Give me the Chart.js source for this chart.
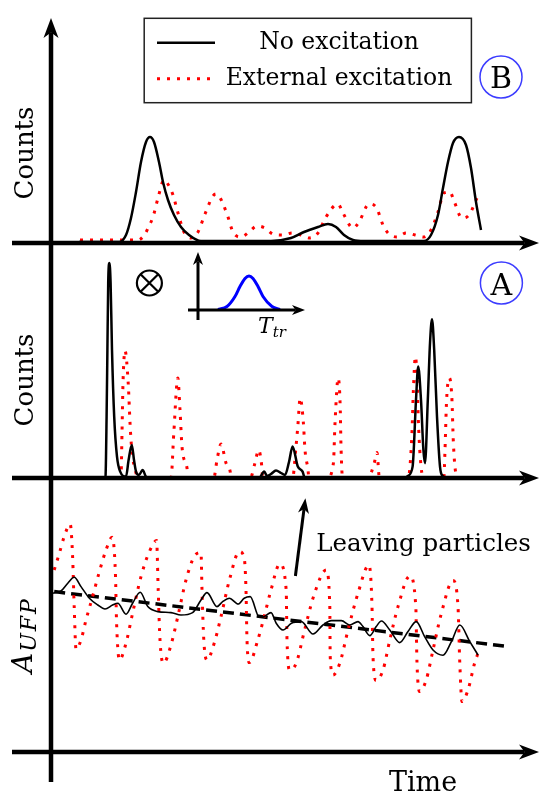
<!DOCTYPE html>
<html>
<head>
<meta charset="utf-8">
<script src="https://cdn.jsdelivr.net/npm/chart.js@4.4.0/dist/chart.umd.min.js"></script>
<style>
  html, body { margin: 0; padding: 0; background: #fff; }
  #wrap { position: relative; width: 544px; height: 804px; }
  #wrap canvas { position: absolute; left: 0; top: 0; }
</style>
</head>
<body>
<div id="wrap">
  <canvas id="panelB" width="544" height="804"></canvas>
  <canvas id="panelA" width="544" height="804"></canvas>
  <canvas id="inset" width="544" height="804"></canvas>
  <canvas id="panelC" width="544" height="804"></canvas>
</div>
<script>
// Panel B - counts, smooth histograms
const bNoExcT = [7, 17, 18.75, 20, 21.25, 22.5, 23.75, 24.75, 25.75, 27,
                 28, 29.25, 30.75, 32.5, 34.5, 37.5, 55, 60, 63.25, 66.75,
                 69.25, 71.25, 73.25, 75.5, 78.25, 93.25, 95, 96.75, 98, 99.25,
                 100.5, 102, 103.75, 105, 106.25, 107.5];
const bNoExc  = [0.5, 0.5, 4, 12.5, 25.5, 40.5, 50.5, 53, 50.5, 40.5,
                 30.5, 21.5, 14, 8, 4, 1, 1, 2.5, 5.5, 8,
                 9.5, 8, 4, 1.5, 1, 1, 4, 14, 27.5, 40.5,
                 50, 53, 49, 37.5, 20.5, 6.5];
const bExtT = [7.25, 21.75, 23.5, 24.5, 25.5, 26.75, 28.25, 29.5, 30.5, 31.75,
               33.25, 35, 36.75, 38.5, 40.5, 41.25, 42, 44, 45.5, 47.5,
               49.5, 51.5, 53.5, 55.5, 58, 60.25, 62.5, 64.5, 66.75, 68.75,
               71.75, 73, 75.5, 77, 79.5, 81.25, 83, 84.25, 86.5, 88.75,
               91, 93.25, 95, 96.75, 98.25, 99.75, 100.75, 102.75, 104.5, 106.5];
const bExt  = [1.5, 1.5, 4.5, 8.5, 13, 22.5, 31.5, 28.5, 24, 15,
               5.5, 2.5, 5.5, 14.5, 23.5, 24.5, 23.5, 14.5, 5.5, 3,
               5.5, 8.5, 7.5, 4.5, 4, 5, 4, 2.5, 5, 13,
               19.5, 15, 7.5, 10.5, 19.5, 18, 9, 5, 3, 5,
               4, 3, 6.5, 15.5, 25, 25.5, 21, 12.5, 14, 22.5];

// Panel A - counts, sharp peaks
const aNoExcT = [12.5, 13.6, 13.9, 14.1, 14.3, 14.6, 14.9, 15.25, 15.8, 16.5,
                 17.3, 18.75, 19.4, 20.2, 20.75, 21.25, 22, 22.9, 23.75, 25,
                 52, 53.3, 54, 55, 56.25, 57.5, 58.5, 59.5, 60.4, 61.7,
                 62.9, 63.3, 64, 88.5, 89.2, 90.4, 91.25, 91.8, 92.5, 93.1,
                 93.5, 94.2, 94.75, 95.25, 95.8, 96.5, 97.25, 97.9, 98.75];
const aNoExc  = [0, 0, 30.7, 64, 97.5, 107.5, 97.5, 64, 30.7, 10.7,
                 3.2, 0.7, 9, 16.5, 9, 3.2, 1.5, 4, 0.7, 0,
                 0, 3.2, 1, 2, 3.7, 2.5, 1.5, 8, 15.7, 5.7,
                 3.2, 0.7, 0, 0, 1, 5.7, 39, 55.7, 39, 14,
                 7.4, 39, 67.4, 79.4, 64, 30.7, 5.7, 1, 0];
const aExtT = [17, 17.5, 17.75, 18, 18.5, 19.3, 19.8, 20.2, 21.25, 21.7,
               30, 30.7, 31.7, 32.25, 32.75, 34, 34.3,
               40.7, 41.5, 42.5, 43.75, 44.8, 45,
               49.8, 51, 51.9, 52.7, 52.9,
               60.4, 61.25, 61.7, 62.3, 63.1, 63.5, 64.2, 64.5,
               69, 70.6, 71, 71.8, 72.3, 72.5, 72.9,
               79.3, 80.8, 81.5, 82.1,
               89.3, 90.2, 90.6, 91.1, 91.5, 91.8, 92.3, 93.1,
               98.2, 98.5, 98.9, 99.6, 100.2, 100.6, 101.25, 102];
const aExt  = [0, 0.7, 22.5, 47.5, 63.7, 47.5, 25.7, 14, 2.5, 0,
               0, 22.5, 50, 34, 15.7, 5, 0,
               0, 9, 17, 7.5, 3.2, 0,
               0, 7.5, 14, 5.7, 0,
               0, 15.7, 25.7, 40, 27.4, 14, 4.9, 0,
               0, 7.4, 27.4, 50, 35.7, 15.7, 0,
               0, 7.4, 12.7, 0,
               0, 20.7, 44, 60.7, 50.7, 30.7, 10.7, 0,
               0, 14, 39, 50, 40.7, 17.4, 2, 0];

// Inset - transit time distribution
const insetT = [2.0, 2.9, 3.7, 4.2, 4.7, 5.1, 5.5, 6.0, 6.5, 7.4, 8.2];
const insetV = [0.01, 0.07, 0.27, 0.47, 0.63, 0.68, 0.63, 0.47, 0.27, 0.07, 0.01];

// Bottom panel - A_UFP over time
const cNoExcT = [0.4, 2.5, 4.2, 5.8, 7.5, 9.6, 11.7, 13.5, 15.4, 16.7,
                 18.75, 20.4, 22.3, 24.2, 26.7, 30, 32.5, 35.4, 37.5, 39,
                 41.5, 42.9, 44.6, 46.8, 48.3, 49.8, 52.1, 53.3, 55, 56.3,
                 58, 60.1, 62.6, 65.5, 68, 70.1, 72.6, 74.7, 76.75, 78,
                 79.7, 81.3, 82.6, 84.7, 87.2, 89.25, 91.3, 93.4, 95.5, 98,
                 100.1, 102.2, 104.7, 106.75];
const cNoExc  = [79.4, 80.5, 84.4, 87.4, 82.7, 76.9, 73.5, 71.5, 73.5, 74.4,
                 68.9, 74.4, 79.9, 72.7, 70.2, 69.7, 68.5, 69.7, 76, 79.7,
                 72.7, 75.2, 76.9, 74, 76.9, 77.7, 67.4, 67.7, 69.7, 64.4,
                 61, 64.4, 65.2, 59, 63.5, 65.7, 65.7, 63.5, 65.2, 62.7,
                 58.2, 62.7, 65.5, 61, 54.7, 60.2, 65.2, 57.7, 51, 48.4,
                 55.2, 63.5, 55.2, 48.5];
const cExtT = [0.8, 2.1, 3.3, 4.8, 5.4, 5.8, 6.25, 7.5, 8.75, 10.4,
               12.1, 13.75, 15.25, 16.1, 16.4, 17.1, 18.75, 20.4, 22.5, 24.6,
               26.4, 26.8, 27.25, 28.1, 30, 31.7, 33.75, 35.8, 37.5, 37.75,
               38.2, 39, 40.8, 42.5, 44.6, 47.1, 48.3, 48.75, 49, 49.6,
               51.7, 53.3, 55, 57.2, 58.8, 59, 59.7, 61.3, 63.4, 65.9,
               68.8, 69.7, 69.8, 70.5, 72.2, 74.25, 76.75, 79.5, 80.25, 80.5,
               81.3, 83, 84.7, 86.75, 89.7, 91.2, 91.5, 92.2, 93.8, 95.5,
               97.6, 100.5, 101.75, 102.2, 102.75, 104.25, 105.9, 106.75];
const cExt  = [91, 99.4, 107.7, 113.9, 97.7, 72.7, 51.4, 56, 66, 77.7,
               90.2, 101, 107.4, 89.4, 64.4, 46, 54.4, 69.4, 87.7, 100.2,
               105.7, 81, 56, 44.4, 53.5, 67.7, 86, 97.7, 99.7, 81,
               56, 46, 54.4, 67.7, 86, 100.2, 97, 81, 56, 44.7,
               56, 67.7, 81, 94, 81, 56, 41, 44.4, 61, 79.4,
               91, 72.7, 47.7, 38.5, 44.4, 61, 79.4, 93.5, 72.7, 47.7,
               35.7, 41, 56, 72.7, 88, 72.7, 44.4, 30.2, 36, 51,
               69.4, 85.7, 72.7, 44.4, 25.2, 31, 44.4, 49.4];
const cTrendT = [0.8, 114.5];
const cTrend  = [80.2, 52.7];

const FONT = '"DejaVu Serif", serif';
const RED = 'rgb(255, 0, 0)';
const pts = (t, v) => t.map((x, i) => ({ x, y: v[i] }));

const noExcStyle = { label: 'No excitation', borderColor: '#000', borderWidth: 2.5 };
const extStyle = { label: 'External excitation', borderColor: RED, borderWidth: 3, borderDash: [3, 7] };

// arrow line with a filled head at (x2, y2)
function headArrow(ctx, x1, y1, x2, y2, len, half) {
    const d = Math.hypot(x2 - x1, y2 - y1), ux = (x2 - x1) / d, uy = (y2 - y1) / d;
    const bx = x2 - ux * len, by = y2 - uy * len;
    const nx = x2 - ux * len * 0.72, ny = y2 - uy * len * 0.72;
    ctx.beginPath(); ctx.moveTo(x1, y1); ctx.lineTo(nx, ny); ctx.stroke();
    ctx.beginPath();
    ctx.moveTo(x2, y2);
    ctx.lineTo(bx - uy * half, by + ux * half);
    ctx.lineTo(nx, ny);
    ctx.lineTo(bx + uy * half, by - ux * half);
    ctx.closePath(); ctx.fill();
}

function drawAxes(chart, c) {
    const ctx = chart.ctx, a = chart.chartArea;
    const x0 = chart.scales.x.getPixelForValue(0), y0 = chart.scales.y.getPixelForValue(0);
    ctx.save();
    ctx.strokeStyle = ctx.fillStyle = '#000';
    ctx.lineWidth = c.lw;
    headArrow(ctx, x0 - c.left, y0, a.right + c.right, y0, c.head, c.half);
    if (c.vArrow) {
        headArrow(ctx, x0, y0 + c.vBottom, x0, a.top - c.vTop, c.head, c.half);
    } else {
        ctx.beginPath(); ctx.moveTo(x0, a.top - c.vTop); ctx.lineTo(x0, y0 + c.vBottom); ctx.stroke();
    }
    ctx.restore();
}

const P = (chart, x, y) => [chart.scales.x.getPixelForValue(x), chart.scales.y.getPixelForValue(y)];

function circleLabel(chart, x, y, base, text) {
    const ctx = chart.ctx, [cx, cy] = P(chart, x, y), [, by] = P(chart, x, base);
    ctx.save();
    ctx.strokeStyle = 'rgb(60, 60, 255)'; ctx.lineWidth = 1.5;
    ctx.beginPath(); ctx.arc(cx, cy, 21, 0, Math.PI * 2); ctx.stroke();
    ctx.fillStyle = '#000'; ctx.font = '30px ' + FONT; ctx.textAlign = 'center';
    ctx.fillText(text, cx, by);
    ctx.restore();
}

function vLabel(chart, x, y, text, size) {
    const ctx = chart.ctx, [px, py] = P(chart, x, y);
    ctx.save();
    ctx.translate(px, py); ctx.rotate(-Math.PI / 2);
    ctx.fillStyle = '#000'; ctx.font = size + 'px ' + FONT; ctx.textAlign = 'center';
    ctx.fillText(text, 0, 0);
    ctx.restore();
}

function drawLegend(chart) {
    const ctx = chart.ctx;
    const [l, t] = P(chart, 23.3, 112.35), [r, b] = P(chart, 105.1, 70.15);
    ctx.save();
    ctx.strokeStyle = '#222'; ctx.lineWidth = 1.5;
    ctx.strokeRect(l, t, r - l, b - t);
    const rows = [[100.15, 96.85], [82.15, 79]];
    chart.data.datasets.forEach((ds, i) => {
        const [x1, y1] = P(chart, 26.5, rows[i][0]), [x2] = P(chart, 41, rows[i][0]);
        ctx.strokeStyle = ds.borderColor; ctx.lineWidth = ds.borderWidth;
        ctx.setLineDash(ds.borderDash || []);
        ctx.beginPath(); ctx.moveTo(x1, y1); ctx.lineTo(x2, y1); ctx.stroke();
        const [tx, ty] = P(chart, 72, rows[i][1]);
        ctx.fillStyle = '#000'; ctx.font = '23.5px ' + FONT; ctx.textAlign = 'center';
        ctx.fillText(ds.label, tx, ty);
    });
    ctx.restore();
}

const panelAxes = { lw: 4.5, left: 39, right: 8, head: 20, half: 7.5 };

function makeChart(id, datasets, xMax, yMax, padding, axes, extra) {
    return new Chart(document.getElementById(id), {
        type: 'line',
        data: { datasets },
        options: {
            responsive: false,
            animation: false,
            events: [],
            layout: { padding },
            plugins: { legend: { display: false }, tooltip: { enabled: false } },
            scales: {
                x: { type: 'linear', min: 0, max: xMax, display: false },
                y: { type: 'linear', min: 0, max: yMax, display: false }
            },
            elements: {
                point: { radius: 0 },
                line: { cubicInterpolationMode: 'monotone', borderCapStyle: 'butt', fill: false }
            }
        },
        plugins: [{
            id: 'sketch_' + id,
            afterDatasetsDraw(chart) {
                drawAxes(chart, axes);
                if (extra) extra(chart);
            }
        }]
    });
}

// Panel B
makeChart('panelB', [
    { ...noExcStyle, data: pts(bNoExcT, bNoExc) },
    { ...extStyle, data: pts(bExtT, bExt) }
], 120, 100, { left: 51, right: 13, top: 43, bottom: 561 },
{ ...panelAxes, vTop: 25, vBottom: 0, vArrow: true },
chart => {
    drawLegend(chart);
    circleLabel(chart, 112.5, 83, 77.35, 'B');
    vLabel(chart, -4.5, 45, 'Counts', 26);
});

// Panel A
makeChart('panelA', [
    { ...noExcStyle, data: pts(aNoExcT, aNoExc) },
    { ...extStyle, data: pts(aExtT, aExt) }
], 120, 110, { left: 51, right: 13, top: 258, bottom: 326 },
{ ...panelAxes, vTop: 15, vBottom: 0, vArrow: false },
chart => {
    circleLabel(chart, 112.6, 97.5, 91.5, 'A');
    vLabel(chart, -4.5, 49, 'Counts', 26);
    const ctx = chart.ctx, [ox, oy] = P(chart, 24.6, 97.5), r = 12.5, k = r * 0.707;
    ctx.save();
    ctx.strokeStyle = '#000'; ctx.lineWidth = 2.2;
    ctx.beginPath(); ctx.arc(ox, oy, r, 0, Math.PI * 2); ctx.stroke();
    ctx.beginPath();
    ctx.moveTo(ox - k, oy - k); ctx.lineTo(ox + k, oy + k);
    ctx.moveTo(ox + k, oy - k); ctx.lineTo(ox - k, oy + k);
    ctx.stroke();
    ctx.restore();
});

// Inset
makeChart('inset', [
    { label: 'T_tr', borderColor: 'rgb(0, 0, 255)', borderWidth: 3, data: pts(insetT, insetV) }
], 10, 1, { left: 198, right: 246, top: 260, bottom: 494 },
{ lw: 3, left: 10, right: 7, head: 13, half: 5, vTop: 8, vBottom: 10, vArrow: true },
chart => {
    const ctx = chart.ctx, [tx, ty] = P(chart, 6.0, -0.46);
    ctx.save();
    ctx.fillStyle = '#000';
    ctx.font = 'italic 22px ' + FONT;
    ctx.fillText('T', tx, ty);
    const w = ctx.measureText('T').width;
    ctx.font = 'italic 15px ' + FONT;
    ctx.fillText('tr', tx + w, ty + 4);
    ctx.restore();
});

// Bottom panel
makeChart('panelC', [
    { label: 'No excitation', borderColor: '#000', borderWidth: 1.6, data: pts(cNoExcT, cNoExc) },
    { ...extStyle, data: pts(cExtT, cExt) },
    { label: 'Trend', borderColor: '#000', borderWidth: 3.5, borderDash: [11, 6], data: pts(cTrendT, cTrend) }
], 120, 125, { left: 51, right: 13, top: 502, bottom: 52 },
{ ...panelAxes, vTop: 24, vBottom: 30, vArrow: false },
chart => {
    const ctx = chart.ctx;
    ctx.save();
    ctx.strokeStyle = ctx.fillStyle = '#000'; ctx.lineWidth = 3;
    const [ax, ay] = P(chart, 61.1, 88), [bx, by] = P(chart, 63.6, 126.85);
    headArrow(ctx, ax, ay, bx, by, 15, 5.5);
    ctx.font = '24.5px ' + FONT;
    const [lx, ly] = P(chart, 66.3, 100.5);
    ctx.fillText('Leaving particles', lx, ly);
    ctx.font = '27px ' + FONT; ctx.textAlign = 'center';
    const [tx, ty] = P(chart, 93, -19.5);
    ctx.fillText('Time', tx, ty);
    // rotated A_UFP label
    const [vx, vy] = P(chart, -4.8, 58.5);
    ctx.translate(vx, vy); ctx.rotate(-Math.PI / 2);
    ctx.textAlign = 'left';
    ctx.font = 'italic 28px ' + FONT;
    const wA = ctx.measureText('A').width;
    ctx.font = 'italic 22px ' + FONT;
    ctx.letterSpacing = '2px';
    const wS = ctx.measureText('UFP').width;
    const sx = -(wA + wS + 1) / 2;
    ctx.fillText('UFP', sx + wA + 1, 4);
    ctx.letterSpacing = '0px';
    ctx.font = 'italic 28px ' + FONT;
    ctx.fillText('A', sx, 0);
    ctx.restore();
});
</script>
</body>
</html>
